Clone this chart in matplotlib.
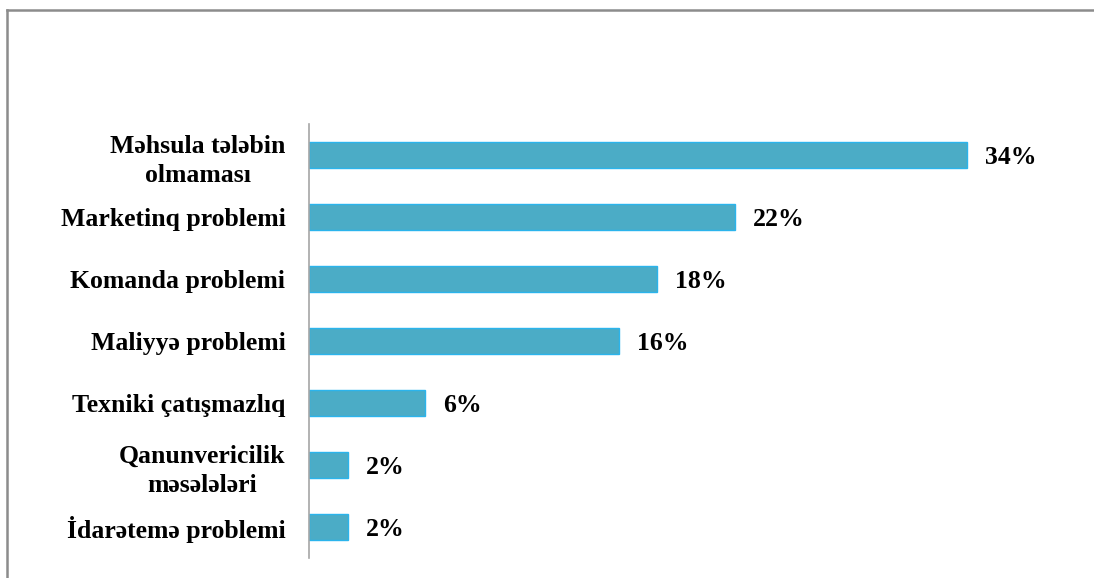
import matplotlib.pyplot as plt
from matplotlib.lines import Line2D

plt.rcParams['font.family'] = ['Liberation Serif', 'DejaVu Serif']

categories = ['Məhsula tələbin\nolmaması', 'Marketinq problemi', 'Komanda problemi',
              'Maliyyə problemi', 'Texniki çatışmazlıq', 'Qanunvericilik\nməsələləri',
              'İdarətemə problemi']
values = [34, 22, 18, 16, 6, 2, 2]
value_labels = ['34%', '22%', '18%', '16%', '6%', '2%', '2%']

fig = plt.figure(figsize=(10.94, 5.78), dpi=100)
W, H = 1094, 578
# axes: x from 309 to 1060 px, y from 124 to 558 px
ax = fig.add_axes([309 / W, 1 - 558 / H, (1060 - 309) / W, (558 - 124) / H])

pos = list(range(len(categories)))
ax.barh(pos, values, height=0.42, color='#4BACC6', edgecolor='#2BB4EC', linewidth=1)
ax.set_ylim(len(categories) - 0.5, -0.5)
ax.set_xlim(0, (1060 - 309) / ((967 - 309) / 34))

for p, v, t in zip(pos, values, value_labels):
    ax.annotate(t, (v, p), xytext=(13, -2), textcoords='offset points',
                va='center', ha='left', fontsize=18.5, fontweight='bold')

ax.set_yticks(pos)
ax.set_yticklabels(categories, fontsize=18.5, fontweight='bold', linespacing=1.35)
for lab in ax.get_yticklabels():
    lab.set_multialignment('center')
ax.tick_params(axis='y', length=0, pad=17)
ax.set_xticks([])
for s in ['top', 'right', 'bottom']:
    ax.spines[s].set_visible(False)
ax.spines['left'].set_color('#A6A6A6')
ax.spines['left'].set_linewidth(1.2)

# outer frame (left and top edges visible)
fig.add_artist(Line2D([6.5 / W, 6.5 / W], [0, 1 - 10 / H], transform=fig.transFigure,
                      color='#8C8C8C', linewidth=1.8))
fig.add_artist(Line2D([6.5 / W, 1], [1 - 10 / H, 1 - 10 / H], transform=fig.transFigure,
                      color='#8C8C8C', linewidth=1.8))

fig.savefig('out.png', dpi=100)
